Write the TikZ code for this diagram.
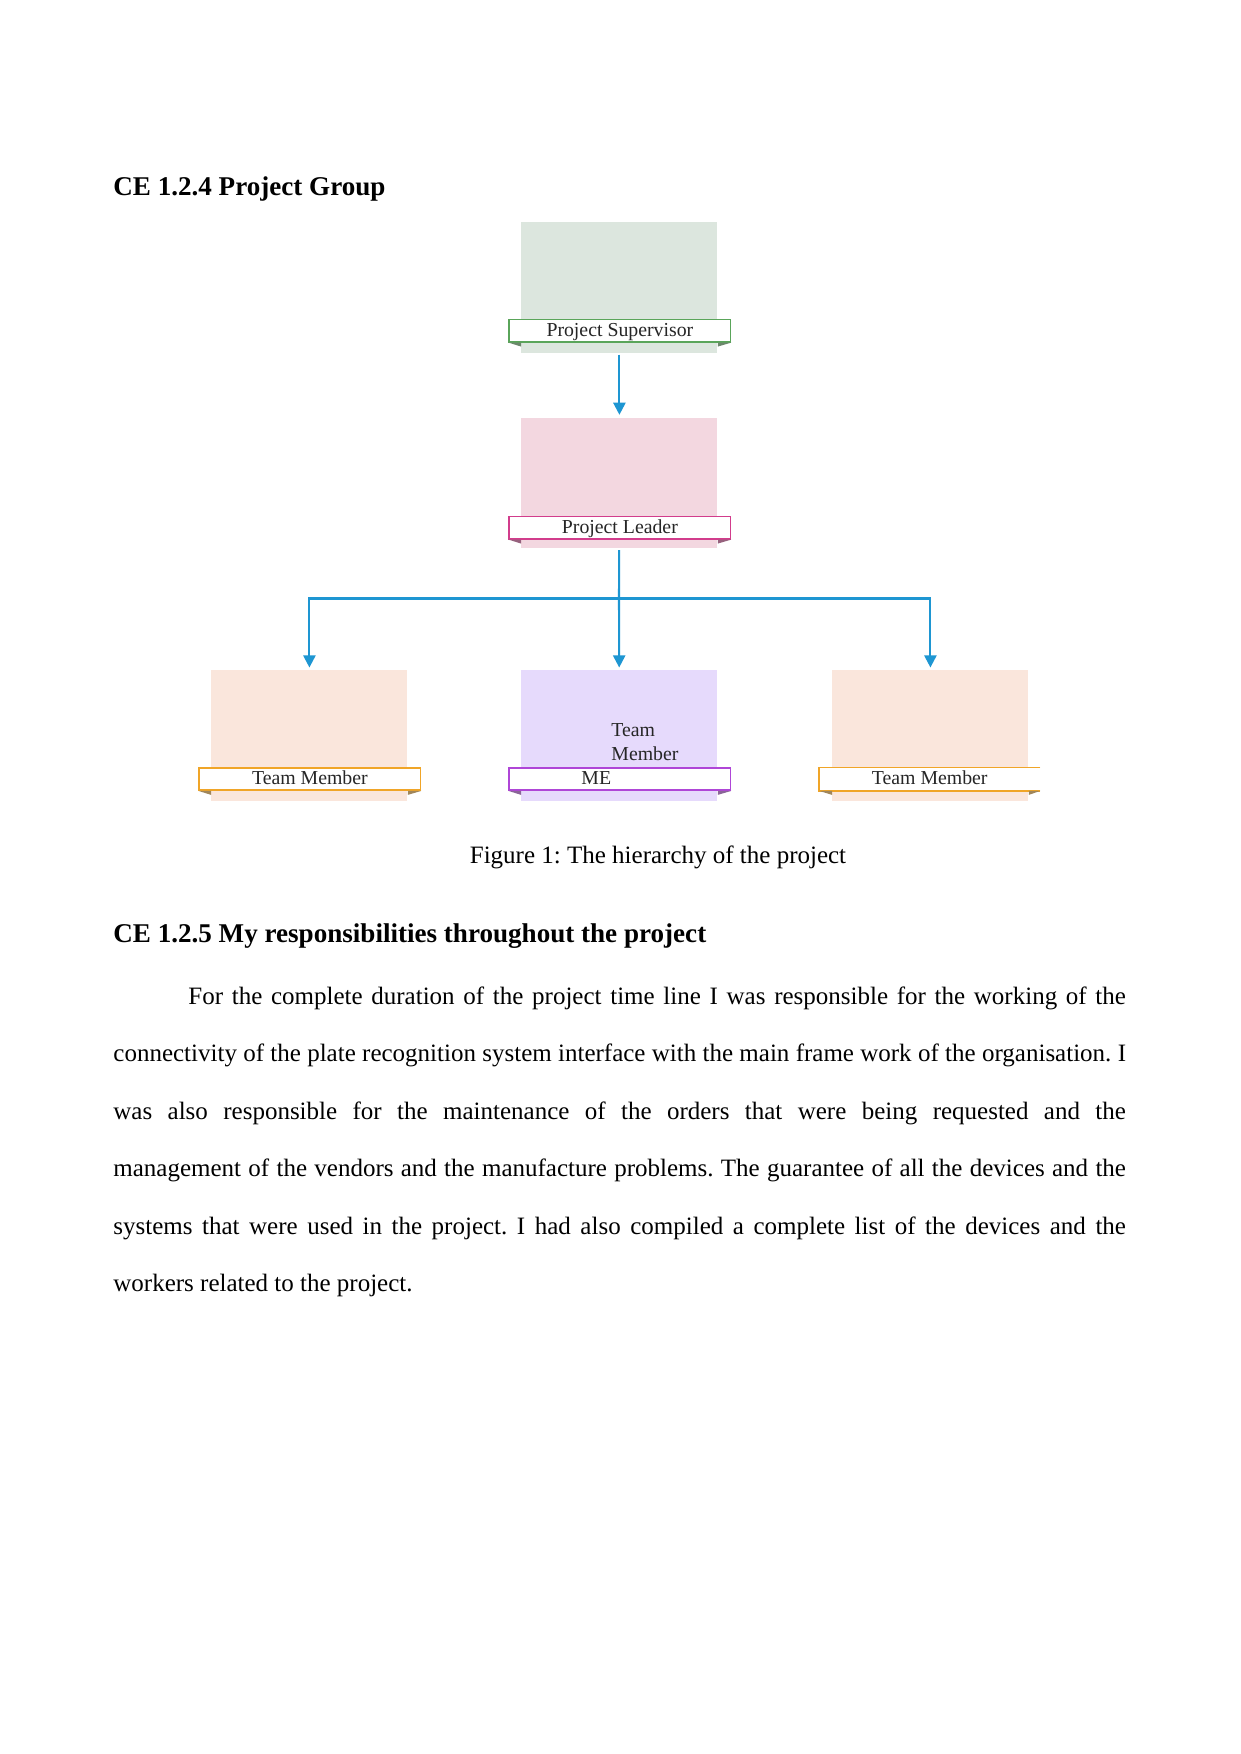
\documentclass[tikz,border=0pt]{standalone}
\usepackage{fontspec}
\setmainfont{Liberation Serif}
\usetikzlibrary{arrows.meta}
\frenchspacing
\def\pxu{0.48pt}
\definecolor{supfill}{RGB}{220,230,222}
\definecolor{supline}{RGB}{90,165,90}
\definecolor{leadfill}{RGB}{243,215,224}
\definecolor{leadline}{RGB}{210,60,140}
\definecolor{peachfill}{RGB}{250,230,220}
\definecolor{peachline}{RGB}{240,165,40}
\definecolor{lavfill}{RGB}{230,218,252}
\definecolor{lavline}{RGB}{175,70,215}
\definecolor{linkblue}{RGB}{30,150,210}
\begin{document}
\begin{tikzpicture}[x=0.48pt,y=-0.48pt,
  orgbox/.style={fill=#1, draw=none, minimum width=196*\pxu, minimum height=130.5*\pxu, inner sep=0, anchor=north west},
  banner/.style={fill=white, draw=#1, line width=0.7pt, minimum width=221.7*\pxu, inner sep=0, text height=8pt, text depth=2.6pt, anchor=north west, font=\fontsize{9.5}{11}\selectfont, text=black!85},
  boxlabel/.style={inner sep=0, font=\fontsize{9.5}{11.2}\selectfont, text=black!85},
  link/.style={draw=linkblue, line width=1pt, -{Triangle[length=5.8pt,width=5.8pt]}},
  plainlink/.style={draw=linkblue, line width=1pt},
  heading/.style={anchor=base west, inner sep=0, font=\bfseries\fontsize{13}{15}\selectfont},
  bodytext/.style={inner sep=0, font=\fontsize{12}{27.6}\selectfont}
]
\useasboundingbox[fill=white] (0,0) rectangle (1241,1754);

% headings and caption
\node[heading] (h1) at (113,195.7) {CE 1.2.4 Project Group};
\node[bodytext, anchor=base] (cap) at (658,863.3) {Figure 1: The hierarchy of the project};
\node[heading] (h2) at (113,942.7) {CE 1.2.5 My responsibilities throughout the project};
\node[bodytext, anchor=base west, text width=486pt, align=justify] (para) at (113,1004) {\hspace*{36pt}For the complete duration of the project time line I was responsible for the working of the\linebreak
connectivity of the plate recognition system interface with the main frame work of the organisation. I\linebreak
was also responsible for the maintenance of the orders that were being requested and the\linebreak
management of the vendors and the manufacture problems. The guarantee of all the devices and the\linebreak
systems that were used in the project. I had also compiled a complete list of the devices and the\linebreak
workers related to the project.};

% boxes
\node[orgbox=supfill] (sup) at (521,221.7) {};
\node[orgbox=leadfill] (lead) at (521,417.3) {};
\node[orgbox=peachfill] (tm1) at (211,670) {};
\node[orgbox=lavfill] (me) at (521,670) {};
\node[orgbox=peachfill] (tm2) at (832,670) {};

% banners
\node[banner=supline] (supb) at (508.3,319) {Project Supervisor};
\node[banner=leadline] (leadb) at (508.3,516) {Project Leader};
\node[banner=peachline] (tm1b) at (198.3,767.3) {Team Member};
\node[banner=lavline] (meb) at (508.3,767.3) {};
\node[banner=peachline, draw=none, minimum width=220*\pxu] (tm2b) at (819,767.3) {Team Member};
\draw[peachline, line width=0.7pt] (tm2b.north east) -- (tm2b.north west) -- (tm2b.south west) -- (tm2b.south east);

% fold tabs
\foreach \b/\x/\c in {supb/sup/supline, leadb/lead/leadline, tm1b/tm1/peachline, meb/me/lavline, tm2b/tm2/peachline}{
  \fill[\c!50!black!70] (\b.south west) -- ([yshift=-4*\pxu]\b.south west -| \x.west) -- (\b.south west -| \x.west) -- cycle;
  \fill[\c!50!black!70] (\b.south east) -- ([yshift=-4*\pxu]\b.south east -| \x.east) -- (\b.south east -| \x.east) -- cycle;
}

% labels in the ME box
\node[boxlabel, anchor=base west] (melab) at (581,784.3) {ME};
\node[boxlabel, anchor=base west, align=left] (metm) at (611,760) {Team\\Member};

% connectors
\coordinate (hub) at (619,598.5);
\draw[link, shorten <=1.5*\pxu, shorten >=2.5*\pxu] (sup) -- (lead);
\draw[plainlink, shorten <=1.5*\pxu] (lead) -- (hub);
\draw[link, shorten >=2.5*\pxu] (hub) -- (me);
\draw[link, shorten >=2.5*\pxu] (hub) -| (tm1);
\draw[link, shorten >=2.5*\pxu] (hub) -| (tm2);
\end{tikzpicture}
\end{document}
